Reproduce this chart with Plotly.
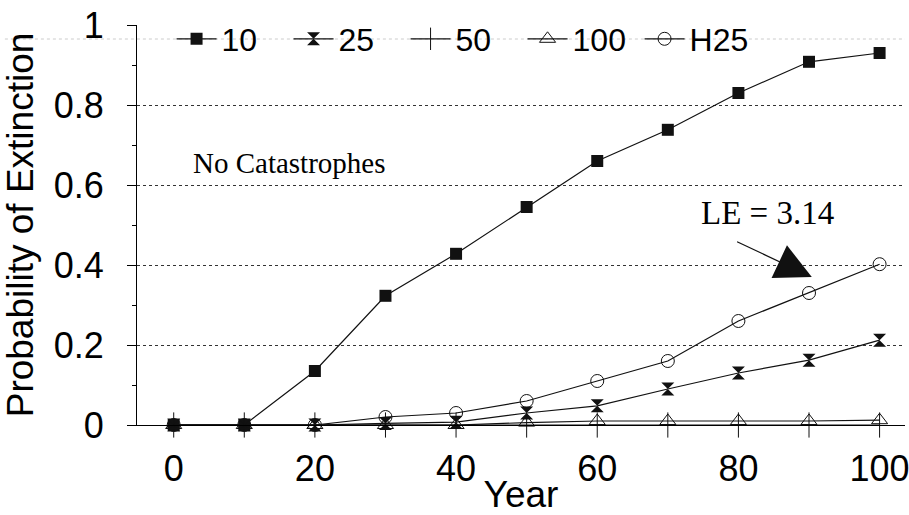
import plotly.graph_objects as go

years = [0, 10, 20, 30, 40, 50, 60, 70, 80, 90, 100]
p10 = [0, 0, 0.135, 0.323, 0.428, 0.545, 0.66, 0.738, 0.83, 0.908, 0.93]
p25 = [0, 0, 0, 0.004, 0.007, 0.03, 0.048, 0.09, 0.13, 0.162, 0.212]
p50 = [0, 0, 0, 0, 0, 0, 0, 0, 0, 0, 0]
p100 = [0, 0, 0, 0, 0, 0.006, 0.01, 0.01, 0.01, 0.01, 0.012]
pH25 = [0, 0, 0, 0.02, 0.03, 0.06, 0.11, 0.16, 0.26, 0.33, 0.402]

series = [
    ("10", p10, dict(symbol="square", size=12, color="#111111")),
    ("25", p25, dict(symbol="hourglass", size=13, color="#111111")),
    ("50", p50, dict(symbol="line-ns-open", size=18, color="#111111",
                     line=dict(width=1, color="#111111"))),
    ("100", p100, dict(symbol="triangle-up-open", size=14, color="#111111",
                       line=dict(width=1, color="#111111"))),
    ("H25", pH25, dict(symbol="circle-open", size=13, color="#111111",
                       line=dict(width=1, color="#111111"))),
]

fig = go.Figure()
for name, vals, marker in series:
    fig.add_trace(go.Scatter(
        x=years, y=vals, name=name, mode="lines+markers",
        line=dict(color="#111111", width=1.2),
        marker=marker, cliponaxis=False,
    ))

sans = "Liberation Sans, Arial, sans-serif"
serif = "Liberation Serif, Times New Roman, serif"

fig.update_layout(
    width=909, height=515,
    margin=dict(l=137, r=4, t=25, b=90, autoexpand=False),
    paper_bgcolor="white", plot_bgcolor="white",
    font=dict(family=sans, color="black", size=32),
    showlegend=True,
    legend=dict(
        orientation="h", x=0.045, y=0.965, xanchor="left", yanchor="middle",
        bgcolor="rgba(0,0,0,0)", font=dict(size=32),
        entrywidth=62, entrywidthmode="pixels", itemwidth=40,
    ),
    xaxis=dict(
        range=[-5.2, 103.6], tickvals=[0, 20, 40, 60, 80, 100],
        showgrid=False, zeroline=False, showline=True, automargin=False,
        linecolor="black", linewidth=1.2, ticks="",
        ticklabelstandoff=12, tickfont=dict(size=36),
        ticklabeloverflow="allow",
        title=dict(text="Year", font=dict(size=37), standoff=2),
    ),
    yaxis=dict(
        range=[0, 1], tickvals=[0, 0.2, 0.4, 0.6, 0.8, 1],
        ticktext=["0", "0.2", "0.4", "0.6", "0.8", "1"],
        showgrid=True, gridcolor="#333333", griddash="dot", gridwidth=1,
        zeroline=False, showline=True, linecolor="black", linewidth=1.2,
        automargin=False, ticklabeloverflow="allow",
        ticks="outside", ticklen=9, tickcolor="black",
        ticklabelstandoff=16, tickfont=dict(size=36),
        minor=dict(dtick=0.1, ticks="outside", ticklen=4, tickcolor="black",
                   showgrid=False),
        title=dict(text="Probability of Extinction", font=dict(size=37),
                   standoff=10),
    ),
    shapes=[
        # faint dotted rule running behind the legend row
        dict(type="line", xref="paper", yref="paper",
             x0=-0.172, x1=1.0, y0=0.965, y1=0.965,
             line=dict(color="#cccccc", width=1, dash="dot"), layer="below"),
    ],
    annotations=[
        dict(x=16.4, y=0.655, xref="x", yref="y", text="No Catastrophes",
             showarrow=False, font=dict(family=serif, size=29)),
        dict(x=84.1, y=0.53, xref="x", yref="y", text="LE = 3.14",
             showarrow=False, font=dict(family=serif, size=33)),
        dict(x=90.4, y=0.37, ax=79.6, ay=0.46, xref="x", yref="y",
             axref="x", ayref="y", text="", showarrow=True,
             arrowhead=2, arrowsize=6, arrowwidth=1.2, arrowcolor="#111111"),
    ],
)

fig.write_html("out.html")
